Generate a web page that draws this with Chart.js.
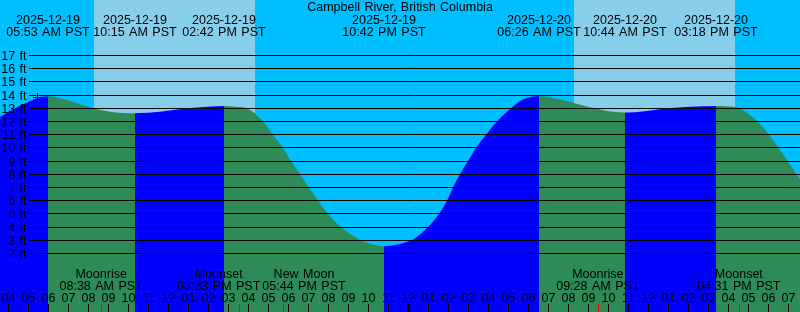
<!DOCTYPE html>
<html><head><meta charset="utf-8">
<script src="https://cdn.jsdelivr.net/npm/chart.js@4.4.1/dist/chart.umd.min.js"></script>
<style>html,body{margin:0;padding:0;background:#00BFFF;overflow:hidden}canvas{display:block}</style>
</head><body>
<canvas id="c" width="800" height="312"></canvas>
<script>
// ---- data (times in hours since 2025-12-19 00:00 PST, heights in ft) ----
const titleText = 'Campbell River, British Columbia';
const viewStart = 3.575, viewEnd = 43.575;
const heightMin = -2.4318, heightMax = 21.2045;

const curveTimes = [3.575, 4.075, 4.575, 5.225, 5.575, 5.975,
  6.425, 6.925, 7.575, 8.225, 9.075, 9.675, 10.325,
  10.975, 11.575, 12.925, 13.925, 14.775,
  15.375, 15.925, 16.725, 17.225, 17.725, 18.125, 18.575, 19.025, 19.475, 19.975, 20.625, 21.625, 22.175, 22.775,
  23.375, 23.875, 24.275, 24.625, 24.975, 25.525, 25.925, 26.225, 26.575, 26.975, 27.375, 27.875, 28.425, 29.125, 29.775, 30.525,
  31.375, 32.275, 33.575, 34.175, 34.825,
  35.825, 36.925, 38.075, 39.375,
  40.325, 41.075, 41.925, 42.575, 43.075, 43.575];
const curveHeights = [12.35, 12.8, 13.2, 13.63, 13.85, 13.92,
  13.82, 13.62, 13.3, 13.0, 12.74, 12.65, 12.62,
  12.66, 12.74, 13.0, 13.12, 13.17,
  13.12, 13.0, 12.0, 11.0, 10.0, 9.0, 8.0, 7.0, 6.0, 5.0, 4.0, 3.0, 2.7, 2.55,
  2.66, 2.85, 3.1, 3.5, 4.0, 5.0, 6.0, 7.0, 8.0, 9.0, 10.0, 11.0, 12.0, 13.0, 13.7, 13.94,
  13.75, 13.4, 12.9, 12.74, 12.68,
  12.78, 13.0, 13.12, 13.18,
  13.1, 12.5, 11.2, 9.85, 8.75, 7.62];

const tideTimes = [5.975, 10.325, 14.775, 22.775, 30.525, 34.825, 39.375];
const tideTypes = ['H', 'L', 'H', 'L', 'H', 'L', 'H'];
const tideDates = ['2025-12-19', '2025-12-19', '2025-12-19', '2025-12-19', '2025-12-20', '2025-12-20', '2025-12-20'];
const tideClock = ['05:53 AM PST', '10:15 AM PST', '02:42 PM PST', '10:42 PM PST', '06:26 AM PST', '10:44 AM PST', '03:18 PM PST'];

const sunriseTimes = [8.275, 32.275];
const sunsetTimes = [16.325, 40.325];

const moonTimes = [8.633, 15.55, 17.733, 33.467, 40.517];
const moonEvents = ['Moonrise', 'Moonset', 'New Moon', 'Moonrise', 'Moonset'];
const moonClock = ['08:38 AM PST', '03:33 PM PST', '05:44 PM PST', '09:28 AM PST', '04:31 PM PST'];

const hourTicks = [4, 5, 6, 7, 8, 9, 10, 11, 12, 13, 14, 15, 16, 17, 18, 19, 20, 21, 22, 23,
  24, 25, 26, 27, 28, 29, 30, 31, 32, 33, 34, 35, 36, 37, 38, 39, 40, 41, 42, 43];
const hourLabels = ['04', '05', '06', '07', '08', '09', '10', '11', '12', '01', '02', '03', '04', '05', '06', '07', '08', '09', '10', '11',
  '12', '01', '02', '03', '04', '05', '06', '07', '08', '09', '10', '11', '12', '01', '02', '03', '04', '05', '06', '07'];

const heightTicks = [2, 3, 4, 5, 6, 7, 8, 9, 10, 11, 12, 13, 14, 15, 16, 17];
const heightLabels = ['2 ft', '3 ft', '4 ft', '5 ft', '6 ft', '7 ft', '8 ft', '9 ft', '10 ft', '11 ft', '12 ft', '13 ft', '14 ft', '15 ft', '16 ft', '17 ft'];

const markerTimes = [5.45];
const markerHeights = [13.82];

// ---- style ----
const COL_NIGHT = '#00BFFF', COL_DAY = '#87CEEB', COL_RISE = '#0000FF', COL_FALL = '#2E8B57';
const FONT = '12.5px "Liberation Sans", Arial, sans-serif';

function isRising(tMid) {
  for (let i = 0; i < tideTimes.length; i++) if (tideTimes[i] > tMid) return tideTypes[i] === 'H';
  return tideTypes[tideTimes.length - 1] === 'L';
}

const deco = {
  id: 'deco',
  beforeDraw(chart) {
    const {ctx, chartArea: a, scales: {x}} = chart;
    ctx.save();
    ctx.fillStyle = COL_NIGHT;
    ctx.fillRect(0, 0, chart.width, chart.height);
    ctx.fillStyle = COL_DAY;
    for (let i = 0; i < sunriseTimes.length; i++) {
      const x0 = x.getPixelForValue(sunriseTimes[i]), x1 = x.getPixelForValue(sunsetTimes[i]);
      ctx.fillRect(x0, a.top, x1 - x0, a.bottom - a.top);
    }
    ctx.restore();
  },
  afterDatasetsDraw(chart) {
    const {ctx, chartArea: a, scales: {x, y}} = chart;
    ctx.save();
    // horizontal level lines
    ctx.strokeStyle = '#000'; ctx.lineWidth = 1;
    ctx.beginPath();
    heightTicks.forEach(v => {
      const py = Math.floor(y.getPixelForValue(v)) + 0.5;
      ctx.moveTo(29, py); ctx.lineTo(a.right, py);
    });
    ctx.stroke();
    ctx.font = FONT;
    ctx.fillStyle = '#000';
    try { ctx.wordSpacing = '1px'; } catch (e) {}
    // level labels
    ctx.textAlign = 'right'; ctx.textBaseline = 'alphabetic';
    heightTicks.forEach((v, i) => {
      const py = Math.floor(y.getPixelForValue(v)) + 0.5;
      ctx.fillText(heightLabels[i], 26.5, py + 4);
    });
    // title
    ctx.textAlign = 'center';
    ctx.fillText(titleText, chart.width / 2, 11);
    // tide extreme labels
    tideTimes.forEach((t, i) => {
      const px = x.getPixelForValue(t);
      ctx.fillText(tideDates[i], px, 24);
      ctx.fillText(tideClock[i], px, 36);
    });
    // moon labels with overlap resolution
    const items = moonTimes.map((t, i) => ({
      cx: x.getPixelForValue(t),
      w: Math.max(ctx.measureText(moonEvents[i]).width, ctx.measureText(moonClock[i]).width)
    }));
    for (let it = 0; it < 10; it++) {
      for (let i = 0; i < items.length - 1; i++) {
        const p = items[i], q = items[i + 1];
        const ov = (p.cx + p.w / 2 + 2) - (q.cx - q.w / 2);
        if (ov > 0) { p.cx -= ov / 2; q.cx += ov / 2; }
      }
    }
    items.forEach((m, i) => {
      ctx.fillText(moonEvents[i], m.cx, 277.5);
      ctx.fillText(moonClock[i], m.cx, 290);
    });
    // hour labels
    hourTicks.forEach((t, i) => {
      ctx.fillText(hourLabels[i], x.getPixelForValue(t), 302);
    });
    // hour tick marks
    hourTicks.forEach(t => {
      const px = Math.floor(x.getPixelForValue(t)) + 0.5;
      ctx.lineWidth = (t % 24 === 0) ? 3 : 1;
      ctx.beginPath(); ctx.moveTo(px, 304); ctx.lineTo(px, a.bottom); ctx.stroke();
    });
    // moon event ticks
    ctx.strokeStyle = '#FF0000'; ctx.lineWidth = 1;
    moonTimes.forEach(t => {
      const px = Math.floor(x.getPixelForValue(t) + 0.2) + 0.5;
      ctx.beginPath(); ctx.moveTo(px, 304); ctx.lineTo(px, a.bottom); ctx.stroke();
    });
    ctx.restore();
  }
};

new Chart(document.getElementById('c'), {
  type: 'line',
  data: {
    datasets: [
      {
        type: 'scatter',
        label: 'marker',
        data: markerTimes.map((t, i) => ({x: t, y: markerHeights[i]})),
        pointStyle: 'cross',
        pointRadius: 4.5,
        pointBorderColor: '#000',
        pointBorderWidth: 1,
        showLine: false,
        order: 0
      },
      {
        label: 'tide',
        data: curveTimes.map((t, i) => ({x: t, y: curveHeights[i]})),
        fill: 'start',
        borderWidth: 0,
        borderColor: 'rgba(0,0,0,0)',
        backgroundColor: COL_RISE,
        pointRadius: 0,
        cubicInterpolationMode: 'monotone',
        segment: {
          backgroundColor: ctx => isRising((ctx.p0.parsed.x + ctx.p1.parsed.x) / 2) ? COL_RISE : COL_FALL
        },
        order: 1
      }
    ]
  },
  options: {
    responsive: false,
    devicePixelRatio: 1,
    animation: false,
    layout: {padding: 0, autoPadding: false},
    plugins: {legend: {display: false}, tooltip: {enabled: false}},
    scales: {
      x: {type: 'linear', min: viewStart, max: viewEnd, display: false},
      y: {type: 'linear', min: heightMin, max: heightMax, display: false}
    }
  },
  plugins: [deco]
});
</script>
</body></html>
